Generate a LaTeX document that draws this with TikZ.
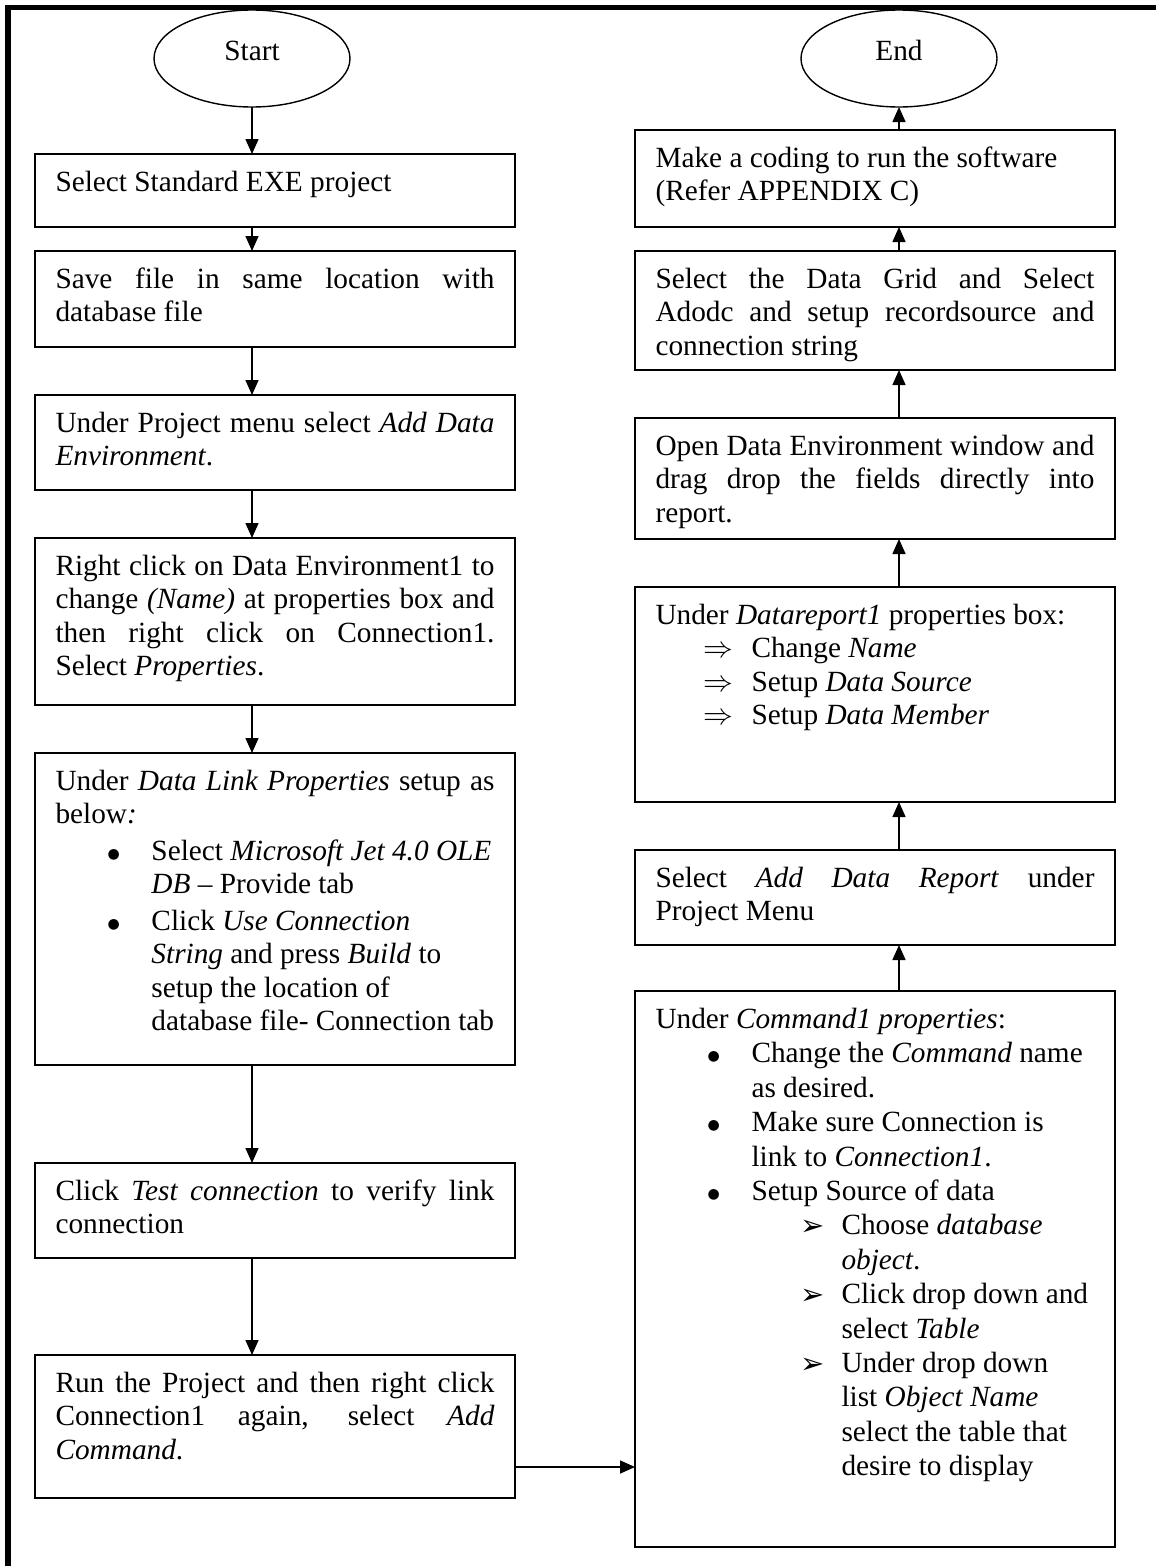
\documentclass[tikz,border=0pt]{standalone}
\usepackage{graphicx}
\usepackage{fontspec}
\setmainfont{Liberation Serif}
\newfontfamily\dejavu{DejaVu Sans}
\usetikzlibrary{arrows.meta,shapes.geometric}
\hbadness=10000 \hfuzz=20pt
\newcommand\jline[1]{\hbox to\hsize{\strut #1}}
\newcommand\rline[1]{\hbox to\hsize{\strut #1\hfil}}
\newcommand\mybul{\raisebox{2pt}[0pt][0pt]{\dejavu\fontsize{14}{14}\selectfont ●}}
\newcommand\bline[1]{\rline{\hspace*{52pt}\makebox[44pt][l]{\mybul}#1}}
\newcommand\contline[1]{\rline{\hspace*{96pt}#1}}
\newcommand\arrline[1]{\rline{\hspace*{145pt}\makebox[41pt][l]{\raisebox{-1pt}[0pt][0pt]{\dejavu\fontsize{29}{29}\selectfont ➢}}#1}}
\newcommand\arrcont[1]{\rline{\hspace*{186pt}#1}}
\newcommand\dline[1]{\rline{\hspace*{48pt}\makebox[48pt][l]{\raisebox{0pt}[0pt][0pt]{\scalebox{1.2}{$\Rightarrow$}}}#1}}
\newcommand\flowbox[5]{\node[boxst] (#1) at (#2,#3) {\vtop to \dimexpr #4pt-#3pt-28pt\relax{\hsize=439pt #5\vss}};}
\begin{document}
\begin{tikzpicture}[x=1pt,y=-1pt,
  boxst/.style={draw, line width=1.6pt, inner xsep=20.5pt, inner ysep=14pt, outer sep=0pt, anchor=north west, font=\fontsize{29.3}{33.5}\selectfont},
  ellst/.style={draw, ellipse, line width=1.4pt, minimum width=196pt, minimum height=97pt, inner sep=0pt, outer sep=0pt, font=\fontsize{29.3}{33.5}\selectfont},
  arr/.style={line width=1.5pt, -{Triangle[length=15pt,width=13pt]}}]
\useasboundingbox (0,0) rectangle (1156,1566);
\fill[white] (0,0) rectangle (1156,1566);
% outer frame (left and top)
\draw[line width=5.5pt, line join=miter] (8,1580) -- (8,7.5) -- (1170,7.5);

% terminals
\node[ellst] (S) at (252,58.5) {\raisebox{-1.5pt}[0pt][0pt]{Start}};
\node[ellst] (E) at (899,58.5) {\raisebox{-1.5pt}[0pt][0pt]{End}};

% left column
\flowbox{L1}{35}{154}{227}{\rline{Select Standard EXE project}}
\flowbox{L2}{35}{251}{347}{\jline{Save file in same location with}\rline{database file}}
\flowbox{L3}{35}{395}{490}{\jline{Under Project menu select \textit{Add Data}}\rline{\textit{Environment}.}}
\flowbox{L4}{35}{538}{705}{\jline{Right click on Data Environment1 to}\jline{change \textit{(Name)} at properties box and}\jline{then right click on Connection1.}\rline{Select \textit{Properties}.}}
\flowbox{L5}{35}{753}{1065}{\jline{Under \textit{Data Link Properties} setup as}\rline{below\textit{:}}\vskip3pt
  \bline{Select \textit{Microsoft Jet 4.0 OLE}}\contline{\textit{DB} – Provide tab}\vskip3pt
  \bline{Click \textit{Use Connection}}\contline{\textit{String} and press \textit{Build} to}\contline{setup the location of}\contline{database file- Connection tab}}
\flowbox{L6}{35}{1163}{1258}{\jline{Click \textit{Test connection} to verify link}\rline{connection}}
\flowbox{L7}{35}{1355}{1498}{\jline{Run the Project and then right click}\jline{Connection1 again, select \textit{Add}}\rline{\textit{Command}.}}

% right column
\flowbox{R1}{635}{130}{227}{\rline{Make a coding to run the software}\rline{(Refer APPENDIX C)}}
\flowbox{R2}{635}{251}{370}{\jline{Select the Data Grid and Select}\jline{Adodc and setup recordsource and}\rline{connection string}}
\flowbox{R3}{635}{418}{539}{\jline{Open Data Environment window and}\jline{drag drop the fields directly into}\rline{report.}}
\flowbox{R4}{635}{587}{802}{\rline{Under \textit{Datareport1} properties box:}\dline{Change \textit{Name}}\dline{Setup \textit{Data Source}}\dline{Setup \textit{Data Member}}}
\flowbox{R5}{635}{850}{945}{\jline{Select \textit{Add Data Report} under}\rline{Project Menu}}
\flowbox{R6}{635}{991}{1547}{\baselineskip=34.4pt
  \rline{Under \textit{Command1 properties}:}
  \bline{Change the \textit{Command} name}\contline{as desired.}
  \bline{Make sure Connection is}\contline{link to \textit{Connection1}.}
  \bline{Setup Source of data}
  \arrline{Choose \textit{database}}\arrcont{\textit{object}.}
  \arrline{Click drop down and}\arrcont{select \textit{Table}}
  \arrline{Under drop down}\arrcont{list \textit{Object Name}}\arrcont{select the table that}\arrcont{desire to display}}

% connectors, left column
\draw[arr] (S.south) -- (S.south |- L1.north);
\draw[arr] (S |- L1.south) -- (S |- L2.north);
\draw[arr] (S |- L2.south) -- (S |- L3.north);
\draw[arr] (S |- L3.south) -- (S |- L4.north);
\draw[arr] (S |- L4.south) -- (S |- L5.north);
\draw[arr] (S |- L5.south) -- (S |- L6.north);
\draw[arr] (S |- L6.south) -- (S |- L7.north);
% across
\coordinate (hy) at (575,1467);
\draw[arr] (L7.east |- hy) -- (R6.west |- hy);
% right column, upwards
\draw[arr] (E |- R6.north) -- (E |- R5.south);
\draw[arr] (E |- R5.north) -- (E |- R4.south);
\draw[arr] (E |- R4.north) -- (E |- R3.south);
\draw[arr] (E |- R3.north) -- (E |- R2.south);
\draw[arr] (E |- R2.north) -- (E |- R1.south);
\draw[arr] (E |- R1.north) -- (E.south);
\end{tikzpicture}
\end{document}
